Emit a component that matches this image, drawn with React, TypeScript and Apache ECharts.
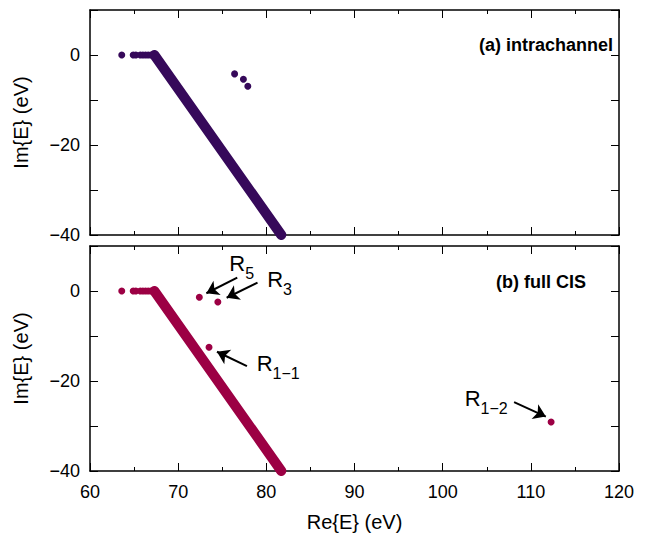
import React, { useEffect, useRef } from "react";
import * as echarts from "echarts";

// ---- data ----
const xRange = [60, 120];
const yRange = [-40, 10];

// (a) intrachannel
const realAxisA: number[][] = [[63.6, 0], [64.9, 0], [65.2, 0], [65.7, 0], [66.0, 0], [66.3, 0], [66.6, 0], [66.9, 0], [67.1, 0]];
const bandA: number[][] = [[67.3, 0], [81.7, -40]];
const isolatedA: number[][] = [[76.4, -4.2], [77.4, -5.4], [77.9, -6.95]];

// (b) full CIS
const realAxisB: number[][] = [[63.6, 0], [64.9, 0], [65.2, 0], [65.7, 0], [66.0, 0], [66.3, 0], [66.6, 0], [66.9, 0], [67.1, 0]];
const bandB: number[][] = [[67.3, 0], [81.7, -40]];
const resonancesB: number[][] = [[72.4, -1.4], [74.5, -2.45], [73.5, -12.5], [112.3, -29.1]];

// annotations (bottom panel)
const resonanceNames = ["5", "3", "1\u22121", "1\u22122"];
const labelAnchors: number[][] = [[75.8, 5.35], [80.1, 1.75], [78.9, -16.85], [102.5, -24.65]];
const arrowFrom: number[][] = [[76.7, 2.96], [79.0, 1.84], [77.8, -16.7], [108.1, -24.7]];
const arrowTo: number[][] = [[73.2, -0.5], [75.5, -1.5], [74.4, -13.5], [111.7, -27.9]];

const panelLabels = ["(a) intrachannel", "(b) full CIS"];

const PURPLE = "#36095a";
const CRIMSON = "#9c0044";
const FONT = '"Liberation Sans", Arial, sans-serif';
const FS = 18;
const NAME_FS = 20;

function xAxisDef(gridIndex: number, position: "bottom" | "top", labels: boolean) {
  return {
    type: "value",
    gridIndex,
    position,
    min: xRange[0],
    max: xRange[1],
    interval: 10,
    axisLine: { show: true, onZero: false, lineStyle: { color: "#000", width: 1.5 } },
    axisTick: { show: true, inside: true, length: 8, lineStyle: { color: "#000", width: 1 } },
    minorTick: { show: true, splitNumber: 2, length: 4, lineStyle: { color: "#000", width: 1 } },
    splitLine: { show: false },
    minorSplitLine: { show: false },
    axisLabel: {
      show: labels,
      color: "#000",
      fontSize: FS,
      fontFamily: FONT,
      margin: 12,
    },
    name: labels ? "Re{E} (eV)" : "",
    nameLocation: "middle",
    nameGap: 41,
    nameTextStyle: { color: "#000", fontSize: NAME_FS, fontFamily: FONT },
  };
}

function yAxisDef(gridIndex: number, position: "left" | "right", labels: boolean) {
  return {
    type: "value",
    gridIndex,
    position,
    min: yRange[0],
    max: yRange[1],
    interval: 10,
    axisLine: { show: true, onZero: false, lineStyle: { color: "#000", width: 1.5 } },
    axisTick: { show: true, inside: true, length: 8, lineStyle: { color: "#000", width: 1 } },
    splitLine: { show: false },
    axisLabel: {
      show: labels,
      color: "#000",
      fontSize: FS,
      fontFamily: FONT,
      margin: 10,
      formatter: (v: number) => (v % 20 === 0 ? String(v).replace("-", "\u2212") : ""),
    },
    name: labels ? "Im{E} (eV)" : "",
    nameLocation: "middle",
    nameGap: 59,
    nameTextStyle: { color: "#000", fontSize: NAME_FS, fontFamily: FONT },
  };
}

export default function App() {
  const ref = useRef<HTMLDivElement>(null);
  useEffect(() => {
    document.body.style.margin = "0";
    if (!ref.current) return;
    const chart = echarts.init(ref.current, undefined, { renderer: "svg" });
    const dot = (color: string) => ({ color, opacity: 1 });
    const option = {
      animation: false,
      backgroundColor: "#fff",
      grid: [
        { left: 90, top: 10, width: 529, height: 225 },
        { left: 90, top: 246, width: 529, height: 225 },
      ],
      xAxis: [
        xAxisDef(0, "bottom", false),
        xAxisDef(0, "top", false),
        xAxisDef(1, "bottom", true),
        xAxisDef(1, "top", false),
      ],
      yAxis: [
        yAxisDef(0, "left", true),
        yAxisDef(0, "right", false),
        yAxisDef(1, "left", true),
        yAxisDef(1, "right", false),
      ],
      graphic: [
        {
          type: "text",
          x: 613,
          y: 45,
          style: { text: panelLabels[0], font: `bold ${FS}px ${FONT}`, fill: "#000", textAlign: "right", textVerticalAlign: "middle" },
        },
        {
          type: "text",
          x: 586,
          y: 282,
          style: { text: panelLabels[1], font: `bold ${FS}px ${FONT}`, fill: "#000", textAlign: "right", textVerticalAlign: "middle" },
        },
      ],
      series: [
        {
          type: "line",
          xAxisIndex: 0,
          yAxisIndex: 0,
          data: bandA,
          showSymbol: false,
          symbol: "none",
          lineStyle: { color: PURPLE, width: 10, cap: "round", opacity: 1 },
          silent: true,
        },
        {
          type: "scatter",
          xAxisIndex: 0,
          yAxisIndex: 0,
          data: realAxisA,
          symbolSize: 7,
          itemStyle: dot(PURPLE),
          silent: true,
        },
        {
          type: "scatter",
          xAxisIndex: 0,
          yAxisIndex: 0,
          data: isolatedA,
          symbolSize: 7,
          itemStyle: dot(PURPLE),
          silent: true,
        },
        {
          type: "line",
          xAxisIndex: 2,
          yAxisIndex: 2,
          data: bandB,
          showSymbol: false,
          symbol: "none",
          lineStyle: { color: CRIMSON, width: 10, cap: "round", opacity: 1 },
          silent: true,
        },
        {
          type: "scatter",
          xAxisIndex: 2,
          yAxisIndex: 2,
          data: realAxisB,
          symbolSize: 7,
          itemStyle: dot(CRIMSON),
          silent: true,
        },
        {
          type: "scatter",
          xAxisIndex: 2,
          yAxisIndex: 2,
          data: resonancesB,
          symbolSize: 7,
          itemStyle: dot(CRIMSON),
          silent: true,
        },
        {
          type: "scatter",
          xAxisIndex: 2,
          yAxisIndex: 2,
          data: labelAnchors.map((p, i) => [p[0], p[1], resonanceNames[i]]),
          symbolSize: 0,
          itemStyle: { color: "#000", opacity: 1 },
          silent: true,
          label: {
            show: true,
            position: "right",
            distance: 0,
            color: "#000",
            formatter: (p: any) => `{r|R}{s|${p.data[2]}}`,
            rich: {
              r: { fontSize: 22, fontFamily: FONT, color: "#000", lineHeight: 24, verticalAlign: "top" },
              s: { fontSize: 16, fontFamily: FONT, color: "#000", lineHeight: 29, verticalAlign: "bottom" },
            },
          },
          markLine: {
            silent: true,
            symbol: ["none", "arrow"],
            symbolSize: 12,
            label: { show: false },
            lineStyle: { color: "#000", width: 2, type: "solid", opacity: 1 },
            itemStyle: { color: "#000", opacity: 1 },
            data: arrowFrom.map((f, i) => [{ coord: f }, { coord: arrowTo[i] }]),
          },
        },
      ],
    };
    chart.setOption(option as any);
    return () => chart.dispose();
  }, []);
  return <div ref={ref} style={{ width: 664, height: 536 }} />;
}
